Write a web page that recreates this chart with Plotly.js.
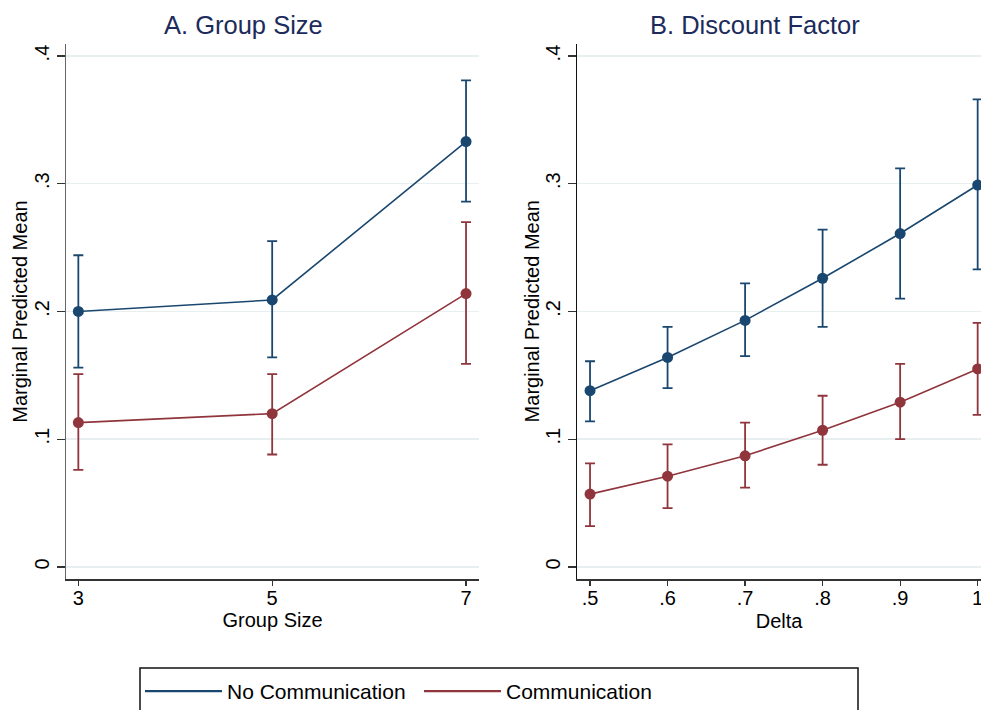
<!DOCTYPE html>
<html>
<head>
<meta charset="utf-8">
<script src="https://cdn.plot.ly/plotly-3.0.1.min.js"></script>
<style>html,body{margin:0;padding:0;background:#fff;}#chart{width:981px;height:710px;}</style>
</head>
<body>
<div id="chart"></div>
<script>
// Panel A: Group Size
const groupSizes = [3, 5, 7];
const groupTickLabels = ["3", "5", "7"];
const noCommGroupMean = [0.200, 0.209, 0.333];
const noCommGroupLow = [0.156, 0.164, 0.286];
const noCommGroupHigh = [0.244, 0.255, 0.381];
const commGroupMean = [0.113, 0.120, 0.214];
const commGroupLow = [0.076, 0.088, 0.159];
const commGroupHigh = [0.151, 0.151, 0.270];

// Panel B: Discount Factor
const deltas = [0.5, 0.6, 0.7, 0.8, 0.9, 1.0];
const deltaTickLabels = [".5", ".6", ".7", ".8", ".9", "1"];
const noCommDeltaMean = [0.138, 0.164, 0.193, 0.226, 0.261, 0.299];
const noCommDeltaLow = [0.114, 0.140, 0.165, 0.188, 0.210, 0.233];
const noCommDeltaHigh = [0.161, 0.188, 0.222, 0.264, 0.312, 0.366];
const commDeltaMean = [0.057, 0.071, 0.087, 0.107, 0.129, 0.155];
const commDeltaLow = [0.032, 0.046, 0.062, 0.080, 0.100, 0.119];
const commDeltaHigh = [0.081, 0.096, 0.113, 0.134, 0.159, 0.191];

const yTickVals = [0, 0.1, 0.2, 0.3, 0.4];
const yTickLabels = ["0", ".1", ".2", ".3", ".4"];
const yTitle = "Marginal Predicted Mean";

const seriesNames = ["No Communication", "Communication"];
const blue = "#1a476f";
const red = "#90353b";
const FONT = "Liberation Sans, Arial, Helvetica, sans-serif";

function diff(a, b) { return a.map((v, i) => v - b[i]); }

function series(x, mean, low, high, color, xa, ya, name) {
  return {
    type: "scatter", mode: "lines+markers", x: x, y: mean, name: name,
    xaxis: xa, yaxis: ya, showlegend: false, cliponaxis: true,
    line: {color: color, width: 1.6},
    marker: {color: color, size: 11},
    error_y: {type: "data", symmetric: false, array: diff(high, mean), arrayminus: diff(mean, low),
              color: color, thickness: 1.8, width: 5}
  };
}

const data = [
  series(groupSizes, noCommGroupMean, noCommGroupLow, noCommGroupHigh, blue, "x", "y", seriesNames[0]),
  series(groupSizes, commGroupMean, commGroupLow, commGroupHigh, red, "x", "y", seriesNames[1]),
  series(deltas, noCommDeltaMean, noCommDeltaLow, noCommDeltaHigh, blue, "x2", "y2", seriesNames[0]),
  series(deltas, commDeltaMean, commDeltaLow, commDeltaHigh, red, "x2", "y2", seriesNames[1]),
  {type: "scatter", mode: "lines", x: [null], y: [null], name: seriesNames[0], line: {color: blue, width: 2.4}, showlegend: true},
  {type: "scatter", mode: "lines", x: [null], y: [null], name: seriesNames[1], line: {color: red, width: 2.4}, showlegend: true}
];

function yaxis(lineColor) {
  return {
    domain: [0.1841, 0.938], range: [-0.0097, 0.4094],
    tickmode: "array", tickvals: yTickVals, ticktext: yTickLabels, tickangle: -90,
    ticks: "outside", ticklen: 8, tickwidth: 1.2, tickcolor: "#333",
    showline: true, linecolor: lineColor, linewidth: 1.6, mirror: false,
    showgrid: true, gridcolor: "#e7eff1", gridwidth: 1.5, zeroline: false,
    tickfont: {family: FONT, size: 20, color: "#000"},
    automargin: false, fixedrange: true
  };
}
function xaxis(domain, range, vals, labels, title, standoff) {
  return {
    domain: domain, range: range, tickmode: "array", tickvals: vals, ticktext: labels,
    ticks: "outside", ticklen: 5, tickwidth: 1.2, tickcolor: "#333",
    showline: true, linecolor: "#333", linewidth: 1.6, showgrid: false, zeroline: false,
    tickfont: {family: FONT, size: 20, color: "#000"},
    ticklabeloverflow: "allow", ticklabelstandoff: -5,
    title: {text: title, font: {family: FONT, size: 20, color: "#000"}, standoff: standoff},
    automargin: false, fixedrange: true
  };
}

function panelTitle(text, xpx) {
  return {text: text, xref: "paper", yref: "paper", x: xpx / 981, y: 1 - 25 / 710,
          xanchor: "center", yanchor: "middle", showarrow: false, font: {family: FONT, size: 25.5, color: "#1c2b5b"}};
}
function yTitleAnn(xpx) {
  return {text: yTitle, xref: "paper", yref: "paper", x: xpx / 981, y: 1 - 311.7 / 710, textangle: -90,
          xanchor: "center", yanchor: "middle", showarrow: false, font: {family: FONT, size: 20, color: "#000"}};
}

const layout = {
  width: 981, height: 710,
  margin: {l: 0, r: 0, t: 0, b: 0, autoexpand: false},
  paper_bgcolor: "#fff", plot_bgcolor: "#fff",
  font: {family: FONT, color: "#000"},
  xaxis: xaxis([0.0676, 0.488], [2.876, 7.131], groupSizes, groupTickLabels, "Group Size", 1),
  yaxis: Object.assign(yaxis("#666"), {anchor: "x"}),
  xaxis2: Object.assign(xaxis([0.5885, 1.0], [0.4836, 1.0043], deltas, deltaTickLabels, "Delta", 6), {anchor: "y2"}),
  yaxis2: Object.assign(yaxis("#111"), {anchor: "x2"}),
  showlegend: true,
  legend: {
    orientation: "h", x: 140 / 981, xanchor: "left", y: 1 - 671 / 710, yanchor: "top",
    borderwidth: 0, bgcolor: "rgba(0,0,0,0)",
    font: {family: FONT, size: 21, color: "#000"},
    itemwidth: 77, entrywidth: 187, entrywidthmode: "pixels", itemclick: false, itemdoubleclick: false
  },
  shapes: [
    {type: "rect", xref: "paper", yref: "paper", x0: 140 / 981, x1: 858 / 981, y0: -0.05, y1: 1 - 668 / 710,
     line: {color: "#111", width: 1.5}, fillcolor: "rgba(0,0,0,0)", layer: "below"}
  ],
  annotations: [
    panelTitle("A. Group Size", 243),
    panelTitle("B. Discount Factor", 755),
    yTitleAnn(20),
    yTitleAnn(531.7)
  ]
};

Plotly.newPlot("chart", data, layout, {displayModeBar: false, staticPlot: true});
</script>
</body>
</html>
